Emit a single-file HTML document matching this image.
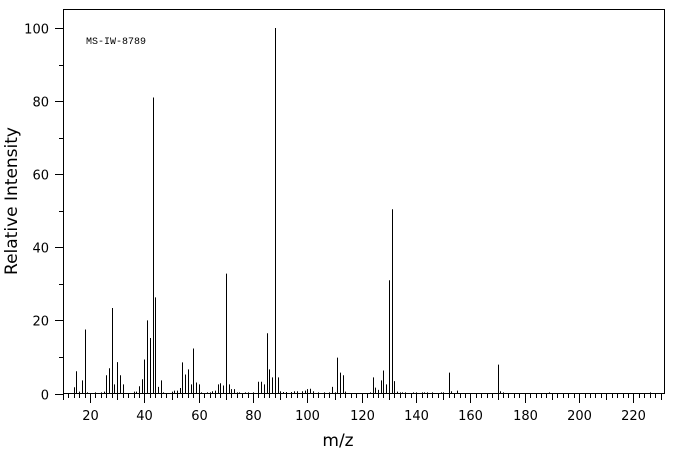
<!DOCTYPE html>
<html><head><meta charset="utf-8"><style>
html,body{margin:0;padding:0;background:#fff;}
svg{display:block;}
text{font-family:"DejaVu Sans","Liberation Sans",sans-serif;fill:#000;}
</style></head><body>
<svg id="s" width="676" height="455" xmlns="http://www.w3.org/2000/svg">
<rect x="63.5" y="9.5" width="601" height="384" fill="none" stroke="#000" stroke-width="1"/>
<text x="86" y="44" style="font-family:'Liberation Mono',monospace;font-size:10px">MS-IW-8789</text>
<text transform="translate(17,201) rotate(-90)" text-anchor="middle" font-size="17">Relative Intensity</text>
<text x="338" y="446" text-anchor="middle" font-size="17">m/z</text>
<g id="g" stroke="#000" stroke-width="1"></g>
<g id="t"></g>
</svg>
<script>
var g=document.getElementById('g'),t=document.getElementById('t'),NS='http://www.w3.org/2000/svg';
function L(x1,y1,x2,y2){var l=document.createElementNS(NS,'line');l.setAttribute('x1',x1);l.setAttribute('y1',y1);l.setAttribute('x2',x2);l.setAttribute('y2',y2);g.appendChild(l);}
function T(x,y,s,a){var e=document.createElementNS(NS,'text');e.setAttribute('x',x);e.setAttribute('y',y);e.setAttribute('font-size','13');e.setAttribute('text-anchor',a);e.textContent=s;t.appendChild(e);}
function X(m){return 35.7+m*2.717;}
function Y(v){return 393.5-v*3.655;}
for(var m=10;m<=230;m+=2){var x=Math.round(X(m))+0.5;L(x,393.5,x,m%20==0?403:(m%10==0?400:398));if(m%20==0)T(x,420,String(m),'middle');}
for(var v=0;v<=100;v+=10){var y=Math.round(Y(v))+0.5;L(v%20==0?55:59,y,63.5,y);if(v%20==0)T(49,y+5,String(v),'end');}
var p={14:1.7,15:6.1,16:0.5,17:3.6,18:17.5,19:0.3,22:0.3,24:0.3,25:0.5,26:5,27:6.9,28:23.4,29:2.5,30:8.6,31:5,32:2.5,36:0.5,37:0.5,38:2,39:3.9,40:9.3,41:20,42:15.2,43:81,44:26.3,45:1.8,46:3.6,47:0.3,50:0.5,51:0.8,52:0.8,53:1.5,54:8.5,55:5.2,56:6.6,57:2.5,58:12.3,59:3,60:2.5,61:0.3,63:0.3,64:0.3,65:0.6,66:0.8,67:2.5,68:2.8,69:2.2,70:32.8,71:2.5,72:1.2,73:1.2,74:0.3,75:0.3,77:0.3,78:0.3,80:0.3,82:3.2,83:3.2,84:2.5,85:16.5,86:6.6,87:4.4,88:100,89:4.4,90:0.6,91:0.4,92:0.4,94:0.4,95:0.6,96:0.6,98:0.6,99:0.8,100:1.2,101:1.3,102:0.6,104:0.3,106:0.3,108:0.3,109:1.8,110:0.3,111:9.8,112:5.7,113:5,114:0.5,123:0.3,124:4.4,125:1.6,126:1,127:3.6,128:6.3,129:2.5,130:31,131:50.4,132:3.4,133:0.5,134:0.3,135:0.3,136:0.3,139:0.3,140:0.3,142:0.3,143:0.3,144:0.3,146:0.3,149:0.3,150:0.3,152:5.7,153:0.6,155:0.8,170:7.9,171:0.6,172:0.3,189:0.3,226:0.3};
for(var k in p){var x=Math.round(X(+k))+0.5;L(x,393.5,x,Y(p[k]));}
</script>
</body></html>
